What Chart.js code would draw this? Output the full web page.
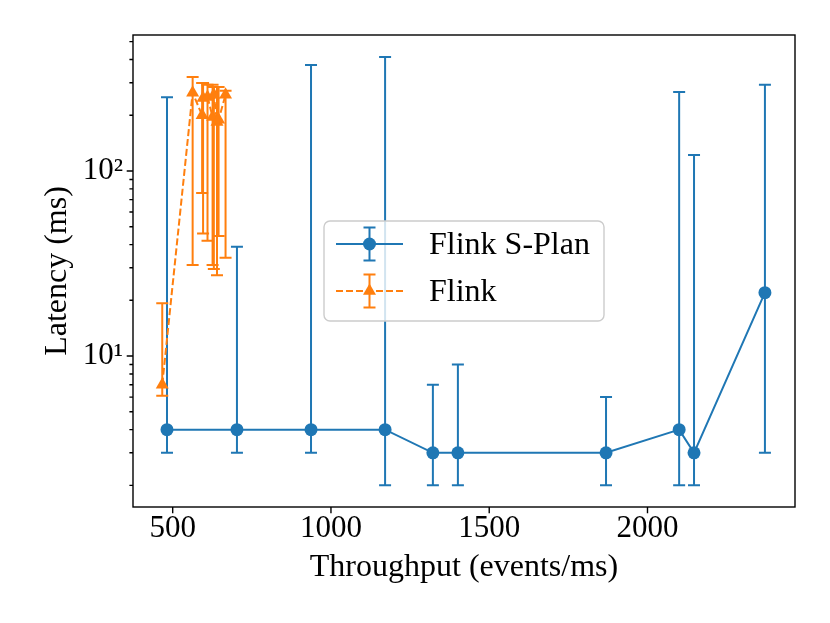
<!DOCTYPE html>
<html>
<head>
<meta charset="utf-8">
<script src="https://cdn.jsdelivr.net/npm/chart.js@4/dist/chart.umd.min.js"></script>
<style>
  html, body { margin: 0; padding: 0; background: #fff; }
  #chart { display: block; }
</style>
</head>
<body>
<canvas id="chart" width="830" height="623"></canvas>
<script>
// Flink S-Plan series
const sPlanThroughput = [482, 703, 937, 1171, 1322, 1401, 1869, 2100, 2147, 2371];
const sPlanLatency = [4, 4, 4, 4, 3, 3, 3, 4, 3, 22];
const sPlanLatencyLow = [3, 3, 3, 2, 2, 2, 2, 2, 2, 3];
const sPlanLatencyHigh = [250, 39, 374, 413, 7, 9, 6, 267, 122, 292];

// Flink series
const flinkThroughput = [467, 563, 593, 596, 610, 626, 630, 640, 645, 667];
const flinkLatency = [7, 265, 200, 248, 251, 196, 258, 184, 189, 258];
const flinkLatencyLow = [6.1, 31, 76, 46, 42, 31, 29.5, 27.3, 44.5, 34];
const flinkLatencyHigh = [19.3, 322, 299, 299, 292, 292, 284, 284, 284, 271];

// tick values
const xTickValues = [500, 1000, 1500, 2000];
const yTickValues = [2, 3, 4, 5, 6, 7, 8, 9, 10, 20, 30, 40, 50, 60, 70, 80, 90, 100, 200, 300, 400, 500];
const yTickLabels = { 10: '10\u00B9', 100: '10\u00B2' };

const BLUE = '#1f77b4';
const ORANGE = '#ff7f0e';
const FONT = "'Liberation Serif', 'DejaVu Serif', serif";

Chart.defaults.color = '#000';
Chart.defaults.font.family = FONT;

function toPoints(xs, ys) {
  return xs.map(function (x, i) { return { x: x, y: ys[i] }; });
}

// draws the vertical error bars under each dataset
const errorBars = {
  id: 'errorBars',
  beforeDatasetDraw(chart, args) {
    const ds = chart.data.datasets[args.index];
    if (!ds.errLow) return;
    const xs = chart.scales.x, ys = chart.scales.y, ctx = chart.ctx;
    ctx.save();
    ctx.strokeStyle = ds.borderColor;
    ctx.lineWidth = 2;
    ctx.setLineDash([]);
    ds.data.forEach(function (p, i) {
      const px = xs.getPixelForValue(p.x);
      const top = ys.getPixelForValue(ds.errHigh[i]);
      const bot = ys.getPixelForValue(ds.errLow[i]);
      ctx.beginPath();
      ctx.moveTo(px, top); ctx.lineTo(px, bot);
      ctx.moveTo(px - 6, top); ctx.lineTo(px + 6, top);
      ctx.moveTo(px - 6, bot); ctx.lineTo(px + 6, bot);
      ctx.stroke();
    });
    ctx.restore();
  }
};

// frame, tick marks and the centred legend
const frameAndLegend = {
  id: 'frameAndLegend',
  afterDraw(chart) {
    const ctx = chart.ctx, a = chart.chartArea;
    const xs = chart.scales.x, ys = chart.scales.y;
    ctx.save();
    ctx.strokeStyle = '#000';
    ctx.lineWidth = 1.4;
    ctx.strokeRect(a.left, a.top, a.right - a.left, a.bottom - a.top);

    ctx.beginPath();
    xs.ticks.forEach(function (t) {
      const px = xs.getPixelForValue(t.value);
      ctx.moveTo(px, a.bottom); ctx.lineTo(px, a.bottom + 6.3);
    });
    ys.ticks.forEach(function (t) {
      const py = ys.getPixelForValue(t.value);
      const len = yTickLabels[t.value] ? 6.3 : 3.6;
      ctx.moveTo(a.left, py); ctx.lineTo(a.left - len, py);
    });
    ctx.stroke();

    // legend box
    const w = 280, h = 100;
    const bx = (a.left + a.right) / 2 - w / 2;
    const by = (a.top + a.bottom) / 2 - h / 2;
    ctx.beginPath();
    ctx.roundRect(bx, by, w, h, 6);
    ctx.fillStyle = 'rgba(255,255,255,0.8)';
    ctx.fill();
    ctx.strokeStyle = '#cccccc';
    ctx.lineWidth = 1.4;
    ctx.stroke();

    chart.data.datasets.forEach(function (ds, i) {
      const ry = by + 23 + i * 47;
      const mx = bx + 45.5;
      ctx.strokeStyle = ds.borderColor;
      ctx.lineWidth = 2;
      ctx.setLineDash(ds.borderDash || []);
      ctx.beginPath();
      ctx.moveTo(bx + 12, ry); ctx.lineTo(bx + 79, ry);
      ctx.stroke();
      ctx.setLineDash([]);
      ctx.beginPath();
      ctx.moveTo(mx, ry - 16.5); ctx.lineTo(mx, ry + 16.5);
      ctx.moveTo(mx - 6, ry - 16.5); ctx.lineTo(mx + 6, ry - 16.5);
      ctx.moveTo(mx - 6, ry + 16.5); ctx.lineTo(mx + 6, ry + 16.5);
      ctx.stroke();
      ctx.fillStyle = ds.backgroundColor;
      Chart.helpers.drawPoint(ctx, {
        pointStyle: ds.pointStyle, radius: ds.pointRadius, rotation: 0, borderWidth: 0
      }, mx, ry);
      ctx.fillStyle = '#000';
      ctx.font = '32px ' + FONT;
      ctx.textBaseline = 'middle';
      ctx.textAlign = 'left';
      ctx.fillText(ds.label, bx + 105, ry + 2);
    });
    ctx.restore();
  }
};

new Chart(document.getElementById('chart'), {
  type: 'scatter',
  data: {
    datasets: [{
      label: 'Flink S-Plan',
      data: toPoints(sPlanThroughput, sPlanLatency),
      errLow: sPlanLatencyLow,
      errHigh: sPlanLatencyHigh,
      showLine: true,
      borderColor: BLUE,
      backgroundColor: BLUE,
      borderWidth: 2,
      pointStyle: 'circle',
      pointRadius: 6.5,
      pointBorderWidth: 0,
      order: 1
    }, {
      label: 'Flink',
      data: toPoints(flinkThroughput, flinkLatency),
      errLow: flinkLatencyLow,
      errHigh: flinkLatencyHigh,
      showLine: true,
      borderColor: ORANGE,
      backgroundColor: ORANGE,
      borderWidth: 2,
      borderDash: [7, 3],
      pointStyle: 'triangle',
      pointRadius: 7.5,
      pointBorderWidth: 0,
      order: 0
    }]
  },
  options: {
    responsive: false,
    animation: false,
    events: [],
    layout: { padding: { top: 35, right: 35, left: 0, bottom: 0 } },
    plugins: {
      legend: { display: false },
      tooltip: { enabled: false }
    },
    scales: {
      x: {
        type: 'linear',
        min: 374.6,
        max: 2466,
        grid: { display: false, drawTicks: false },
        border: { display: false },
        afterBuildTicks: function (scale) {
          scale.ticks = xTickValues.map(function (v) { return { value: v }; });
        },
        afterFit: function (scale) { scale.height = 116; },
        ticks: {
          padding: 3,
          font: { size: 31 },
          maxRotation: 0,
          autoSkip: false,
          callback: function (v) { return String(v); }
        },
        title: {
          display: true,
          text: 'Throughput (events/ms)',
          font: { size: 32 },
          padding: { top: 0, bottom: 36 }
        }
      },
      y: {
        type: 'logarithmic',
        min: 1.528,
        max: 543,
        grid: { display: false, drawTicks: false },
        border: { display: false },
        afterBuildTicks: function (scale) {
          scale.ticks = yTickValues.map(function (v) { return { value: v }; });
        },
        afterFit: function (scale) { scale.width = 133; },
        ticks: {
          padding: 10,
          font: { size: 31 },
          autoSkip: false,
          callback: function (v) { return yTickLabels[v] || ''; }
        },
        title: {
          display: true,
          text: 'Latency (ms)',
          font: { size: 32 },
          padding: { top: 38, bottom: 0 }
        }
      }
    }
  },
  plugins: [errorBars, frameAndLegend]
});
</script>
</body>
</html>
